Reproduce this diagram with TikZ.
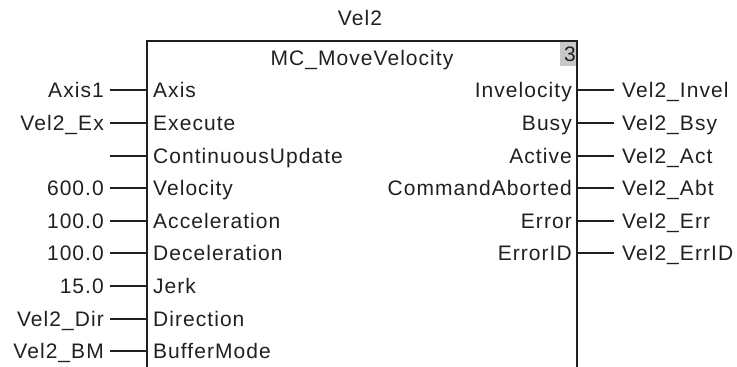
\documentclass[tikz,border=0pt]{standalone}
\usepackage{fontspec}
\setmainfont[LetterSpace=5]{Liberation Sans}
\definecolor{ink}{HTML}{231F20}
\definecolor{numgrey}{HTML}{C8C8C8}
\begin{document}
\begin{tikzpicture}[x=1pt,y=-1pt,
  every node/.style={font=\fontsize{21}{24}\selectfont, text=ink, inner ysep=0pt, text height=15pt, text depth=0pt},
  inport/.style={anchor=west, inner xsep=6pt},
  outport/.style={anchor=east, inner xsep=5pt},
  inval/.style={anchor=east, inner xsep=6pt},
  outval/.style={anchor=west, inner xsep=8pt},
  wire/.style={draw=ink, line width=1.2pt},
  fb/.style={draw=ink, line width=1.4pt}]
\useasboundingbox (0,0) rectangle (737,367);
% block frame
\fill[numgrey] (560,41) rectangle (577,66);
\draw[fb] (147,367) -- (147,41) -- (577,41) -- (577,367);
\node (inst) at (360,18) {Vel2};
\node (fbname) at (362,58) {MC\_MoveVelocity};
\node[anchor=east, inner xsep=1pt] (num) at (577,54) {3};
% inputs
\node[inport] (pAxis) at (147,90) {Axis};
\node[inport] (pExe) at (147,123) {Execute};
\node[inport] (pCU) at (147,156) {ContinuousUpdate};
\node[inport] (pVel) at (147,188) {Velocity};
\node[inport] (pAcc) at (147,221) {Acceleration};
\node[inport] (pDec) at (147,253) {Deceleration};
\node[inport] (pJerk) at (147,286) {Jerk};
\node[inport] (pDir) at (147,319) {Direction};
\node[inport] (pBM) at (147,351) {BufferMode};
\node[inval] (vAxis) at (110,90) {Axis1};
\node[inval] (vExe) at (110,123) {Vel2\_Ex};
\coordinate (vCU) at (110,156);
\node[inval] (vVel) at (110,188) {600.0};
\node[inval] (vAcc) at (110,221) {100.0};
\node[inval] (vDec) at (110,253) {100.0};
\node[inval] (vJerk) at (110,286) {15.0};
\node[inval] (vDir) at (110,319) {Vel2\_Dir};
\node[inval] (vBM) at (110,351) {Vel2\_BM};
\foreach \n in {Axis,Exe,Vel,Acc,Dec,Jerk,Dir,BM}{\draw[wire] (v\n.east) -- (p\n.west);}
\draw[wire] (vCU) -- (pCU.west);
% outputs
\node[outport] (pInv) at (577,90) {Invelocity};
\node[outport] (pBsy) at (577,123) {Busy};
\node[outport] (pAct) at (577,156) {Active};
\node[outport] (pAbt) at (577,188) {CommandAborted};
\node[outport] (pErr) at (577,221) {Error};
\node[outport] (pEID) at (577,253) {ErrorID};
\node[outval] (vInv) at (614,90) {Vel2\_Invel};
\node[outval] (vBsy) at (614,123) {Vel2\_Bsy};
\node[outval] (vAct) at (614,156) {Vel2\_Act};
\node[outval] (vAbt) at (614,188) {Vel2\_Abt};
\node[outval] (vErr) at (614,221) {Vel2\_Err};
\node[outval] (vEID) at (614,253) {Vel2\_ErrID};
\foreach \n in {Inv,Bsy,Act,Abt,Err,EID}{\draw[wire] (p\n.east) -- (v\n.west);}
\end{tikzpicture}
\end{document}
